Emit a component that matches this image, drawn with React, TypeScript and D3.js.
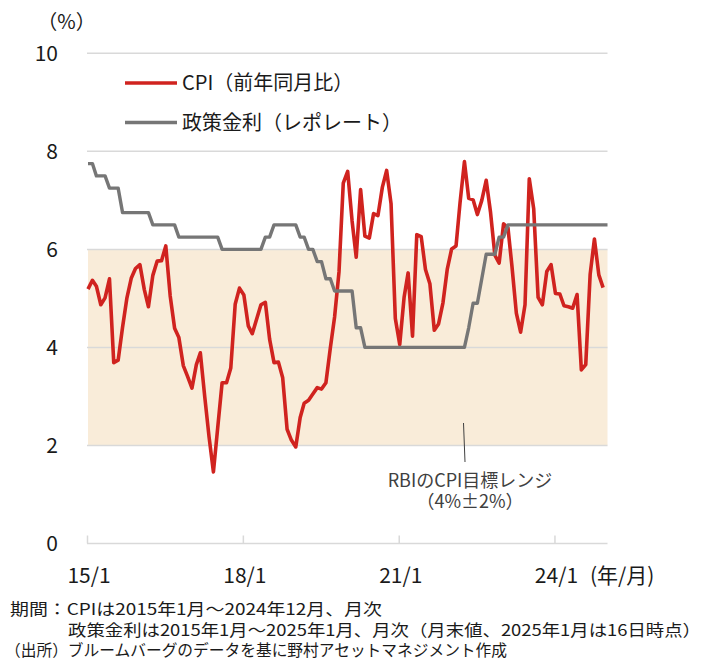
import { useEffect, useRef } from 'react';
import * as d3 from 'd3';

// CPI (YoY, %) monthly, 2015/1 - 2024/12
const cpi = [
  5.19, 5.37, 5.25, 4.87, 5.01, 5.4, 3.69, 3.74, 4.41, 5.0, 5.41, 5.61, // 2015
  5.69, 5.18, 4.83, 5.47, 5.76, 5.77, 6.07, 5.05, 4.39, 4.2, 3.63, 3.41, // 2016
  3.17, 3.65, 3.89, 2.99, 2.18, 1.46, 2.36, 3.28, 3.28, 3.58, 4.88, 5.21, // 2017
  5.07, 4.44, 4.28, 4.58, 4.87, 4.92, 4.17, 3.69, 3.7, 3.38, 2.33, 2.11, // 2018
  1.97, 2.57, 2.86, 2.92, 3.05, 3.18, 3.15, 3.28, 3.99, 4.62, 5.54, 7.35, // 2019
  7.59, 6.58, 5.84, 7.22, 6.27, 6.23, 6.73, 6.69, 7.27, 7.61, 6.93, 4.59, // 2020
  4.06, 5.03, 5.52, 4.23, 6.3, 6.26, 5.59, 5.3, 4.35, 4.48, 4.91, 5.59, // 2021
  6.01, 6.07, 6.95, 7.79, 7.04, 7.01, 6.71, 7.0, 7.41, 6.77, 5.88, 5.72, // 2022
  6.52, 6.44, 5.66, 4.7, 4.31, 4.87, 7.44, 6.83, 5.02, 4.87, 5.55, 5.69, // 2023
  5.1, 5.09, 4.85, 4.83, 4.8, 5.08, 3.54, 3.65, 5.49, 6.21, 5.48, 5.22, // 2024
];

// policy rate (repo rate, %) month end, 2015/1 - 2025/1
const policyRate = [
  7.75, 7.75, 7.5, 7.5, 7.5, 7.25, 7.25, 7.25, 6.75, 6.75, 6.75, 6.75, // 2015
  6.75, 6.75, 6.75, 6.5, 6.5, 6.5, 6.5, 6.5, 6.5, 6.25, 6.25, 6.25, // 2016
  6.25, 6.25, 6.25, 6.25, 6.25, 6.25, 6.25, 6.0, 6.0, 6.0, 6.0, 6.0, // 2017
  6.0, 6.0, 6.0, 6.0, 6.0, 6.25, 6.25, 6.5, 6.5, 6.5, 6.5, 6.5, // 2018
  6.5, 6.25, 6.25, 6.0, 6.0, 5.75, 5.75, 5.4, 5.4, 5.15, 5.15, 5.15, // 2019
  5.15, 5.15, 4.4, 4.4, 4.0, 4.0, 4.0, 4.0, 4.0, 4.0, 4.0, 4.0, // 2020
  4.0, 4.0, 4.0, 4.0, 4.0, 4.0, 4.0, 4.0, 4.0, 4.0, 4.0, 4.0, // 2021
  4.0, 4.0, 4.0, 4.0, 4.4, 4.9, 4.9, 5.4, 5.9, 5.9, 5.9, 6.25, // 2022
  6.25, 6.5, 6.5, 6.5, 6.5, 6.5, 6.5, 6.5, 6.5, 6.5, 6.5, 6.5, // 2023
  6.5, 6.5, 6.5, 6.5, 6.5, 6.5, 6.5, 6.5, 6.5, 6.5, 6.5, 6.5, // 2024
  6.5, // 2025/1
];

const xTickLabels = ['15/1', '18/1', '21/1', '24/1'];
const yTicks = [0, 2, 4, 6, 8, 10];
const targetRange: [number, number] = [2, 6];
const seriesNames = ['CPI（前年同月比）', '政策金利（レポレート）'];
const targetLabel = ['RBIのCPI目標レンジ', '（4%±2%）'];
const notes = [
  '期間：CPIは2015年1月～2024年12月、月次',
  '政策金利は2015年1月～2025年1月、月次（月末値、2025年1月は16日時点）',
  '（出所）ブルームバーグのデータを基に野村アセットマネジメント作成',
];

const FONT = '"Noto Sans CJK JP", "Noto Sans", sans-serif';
const RED = '#d0231f';
const GRAY = '#767676';

const App = () => {
  const svgRef = useRef<SVGSVGElement | null>(null);

  useEffect(() => {
    if (!svgRef.current) return;
    const svg = d3.select(svgRef.current);
    svg.selectAll('*').remove();

    const start = new Date(2015, 0, 1);
    const monthDate = (i: number) => d3.timeMonth.offset(start, i);

    const x = d3
      .scaleTime()
      .domain([start, new Date(2025, 0, 1)])
      .range([88, 607.5]);
    const y = d3.scaleLinear().domain([0, 10]).range([543.5, 53.3]);

    const [x0, x1] = x.range();

    // target band
    svg
      .append('rect')
      .attr('x', x0)
      .attr('y', y(targetRange[1]))
      .attr('width', x1 - x0)
      .attr('height', y(targetRange[0]) - y(targetRange[1]))
      .attr('fill', '#f9ecd9');

    // gridlines
    svg
      .append('g')
      .selectAll('line')
      .data(yTicks.filter((d) => d > 0))
      .join('line')
      .attr('x1', x0 - 1)
      .attr('x2', x1)
      .attr('y1', (d) => y(d))
      .attr('y2', (d) => y(d))
      .attr('stroke', '#d9d9d9')
      .attr('stroke-width', 1.5);

    // y labels
    svg
      .append('g')
      .selectAll('text')
      .data(yTicks)
      .join('text')
      .attr('x', 58)
      .attr('y', (d) => y(d) + 7.5)
      .attr('text-anchor', 'end')
      .attr('font-size', 21)
      .attr('fill', '#1a1a1a')
      .text((d) => d);

    svg
      .append('text')
      .attr('x', 66.5)
      .attr('y', 29)
      .attr('text-anchor', 'middle')
      .attr('font-size', 20)
      .attr('fill', '#1a1a1a')
      .text('（%）');

    // x axis
    const tickDates = xTickLabels.map((s) => new Date(2000 + +s.split('/')[0], +s.split('/')[1] - 1, 1));
    svg
      .append('line')
      .attr('x1', x0 - 1)
      .attr('x2', x1)
      .attr('y1', y(0))
      .attr('y2', y(0))
      .attr('stroke', '#d9d9d9')
      .attr('stroke-width', 1.5);
    svg
      .append('g')
      .selectAll('line')
      .data(tickDates)
      .join('line')
      .attr('x1', (d) => x(d) - 0.5)
      .attr('x2', (d) => x(d) - 0.5)
      .attr('y1', y(0) - 8)
      .attr('y2', y(0))
      .attr('stroke', '#d9d9d9')
      .attr('stroke-width', 1.5);
    svg
      .append('g')
      .selectAll('text')
      .data(tickDates)
      .join('text')
      .attr('x', (d) => x(d) + 1)
      .attr('y', 583)
      .attr('text-anchor', 'middle')
      .attr('font-size', 21)
      .attr('fill', '#1a1a1a')
      .text((_, i) => xTickLabels[i]);
    svg
      .append('text')
      .attr('x', 590)
      .attr('y', 583)
      .attr('font-size', 21)
      .attr('fill', '#1a1a1a')
      .text('(年/月)');

    // lines
    const line = d3
      .line<number>()
      .x((_, i) => x(monthDate(i)))
      .y((d) => y(d));

    svg
      .append('path')
      .datum(cpi)
      .attr('fill', 'none')
      .attr('stroke', RED)
      .attr('stroke-width', 3.6)
      .attr('stroke-linejoin', 'round')
      .attr('d', line);

    svg
      .append('path')
      .datum(policyRate)
      .attr('fill', 'none')
      .attr('stroke', GRAY)
      .attr('stroke-width', 3.4)
      .attr('stroke-linejoin', 'round')
      .attr('d', line);

    // legend
    const legend = svg
      .append('g')
      .selectAll('g')
      .data(seriesNames)
      .join('g')
      .attr('transform', (_, i) => `translate(125,${83 + i * 39.5})`);
    legend
      .append('line')
      .attr('x1', 0)
      .attr('x2', 52)
      .attr('stroke', (_, i) => (i === 0 ? RED : GRAY))
      .attr('stroke-width', 3.6);
    legend
      .append('text')
      .attr('x', 57)
      .attr('y', 7)
      .attr('font-size', 20)
      .attr('fill', '#1a1a1a')
      .text((d) => d);

    // annotation for target range
    svg
      .append('line')
      .attr('x1', 463.5)
      .attr('y1', 423)
      .attr('x2', 465)
      .attr('y2', 462)
      .attr('stroke', '#404040')
      .attr('stroke-width', 1);
    svg
      .append('g')
      .selectAll('text')
      .data(targetLabel)
      .join('text')
      .attr('x', 470)
      .attr('y', (_, i) => 487 + i * 21)
      .attr('text-anchor', 'middle')
      .attr('font-size', 18)
      .attr('fill', '#404040')
      .text((d) => d);

    // notes
    const noteX = [10, 68, 5];
    const noteW = [372, 633, 502];
    svg
      .append('g')
      .selectAll('text')
      .data(notes)
      .join('text')
      .attr('x', (_, i) => noteX[i])
      .attr('y', (_, i) => 615 + i * 20.5)
      .attr('font-size', 16)
      .attr('fill', '#1a1a1a')
      .attr('textLength', (_, i) => noteW[i])
      .attr('lengthAdjust', 'spacingAndGlyphs')
      .text((d) => d);
  }, []);

  return (
    <div style={{ position: 'absolute', left: 0, top: 0 }}>
      <svg ref={svgRef} width={703} height={665} style={{ fontFamily: FONT, display: 'block' }}></svg>
    </div>
  );
};

export default App;
